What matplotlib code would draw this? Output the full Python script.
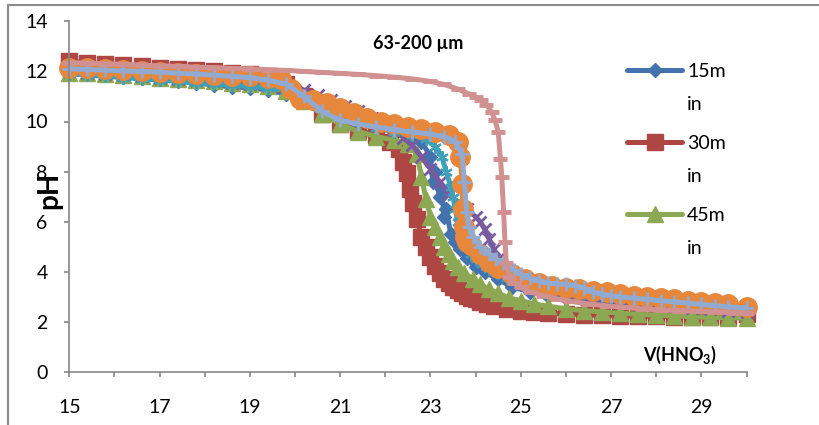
import matplotlib
matplotlib.use('Agg')
import matplotlib.pyplot as plt
from matplotlib.lines import Line2D

plt.rcParams['font.family'] = ['Lato', 'DejaVu Sans']
plt.rcParams['mathtext.fontset'] = 'custom'
plt.rcParams['mathtext.rm'] = 'Lato'
plt.rcParams['mathtext.bf'] = 'Lato:bold'

# ---------------- data ----------------
labels = ['15min', '30min', '45min', 's4', 's5', 's6', 's7', 's8']

x1 = [15, 15.4, 15.8, 16.2, 16.6, 17, 17.4, 17.8, 18.2, 18.6, 19, 19.4, 19.8, 20.2, 20.6, 21, 21.4, 21.8,
      22.2, 22.6, 22.8, 23.0, 23.05, 23.1, 23.2, 23.25, 23.3, 23.35, 23.45, 23.55, 23.65, 23.8, 24.0, 24.2,
      24.5, 24.8, 25.2, 25.6, 26, 26.4, 26.8, 27.2, 27.6, 28, 28.4, 28.8, 29.2, 29.6, 30]
y1 = [11.95, 11.9, 11.85, 11.8, 11.75, 11.7, 11.62, 11.55, 11.45, 11.38, 11.35, 11.25, 11.1, 10.9, 10.6,
      10.2, 9.95, 9.75, 9.6, 9.4, 9.2, 8.6, 7.6, 8.0, 7.0, 7.3, 6.2, 6.5, 5.5, 5.2, 4.9, 4.55, 4.2, 4.0,
      3.7, 3.4, 3.2, 3.05, 2.95, 2.85, 2.8, 2.75, 2.7, 2.65, 2.6, 2.55, 2.5, 2.45, 2.4]

x2 = [15, 15.4, 15.8, 16.2, 16.6, 17, 17.4, 17.8, 18.2, 18.6, 19, 19.4, 19.8, 20.2, 20.6, 21, 21.4, 21.8,
      22.1, 22.3, 22.4, 22.48, 22.55, 22.62, 22.7, 22.8, 22.9, 23.0, 23.1, 23.2, 23.3, 23.4, 23.5, 23.6,
      23.7, 23.8, 23.9, 24.0, 24.1, 24.25, 24.4, 24.7, 25.0, 25.3, 25.6, 26, 26.4, 26.8, 27.2, 27.6, 28,
      28.4, 28.8, 29.2, 29.6, 30]
y2 = [12.4, 12.35, 12.3, 12.25, 12.2, 12.15, 12.1, 12.05, 12.0, 11.95, 11.9, 11.8, 11.5, 11.0, 10.3, 9.9,
      9.65, 9.45, 9.2, 8.9, 8.4, 7.95, 7.3, 6.75, 6.1, 5.4, 5.0, 4.6, 4.25, 3.95, 3.7, 3.55, 3.4, 3.28,
      3.15, 3.05, 2.97, 2.9, 2.8, 2.7, 2.62, 2.5, 2.45, 2.4, 2.36, 2.32, 2.29, 2.27, 2.25, 2.23, 2.22,
      2.21, 2.2, 2.19, 2.18, 2.3]

x3 = [15, 15.4, 15.8, 16.2, 16.6, 17, 17.4, 17.8, 18.2, 18.6, 19, 19.4, 19.8, 20.2, 20.6, 21, 21.4, 21.8,
      22.2, 22.5, 22.7, 22.8, 22.9, 23.0, 23.1, 23.2, 23.3, 23.4, 23.5, 23.6, 23.75, 23.95, 24.1, 24.3,
      24.5, 24.75, 25.0, 25.3, 25.6, 26, 26.4, 26.8, 27.2, 27.6, 28, 28.4, 28.8, 29.2, 29.6, 30]
y3 = [11.95, 11.92, 11.88, 11.84, 11.8, 11.75, 11.7, 11.65, 11.6, 11.55, 11.5, 11.4, 11.2, 10.8, 10.3, 9.9,
      9.6, 9.4, 9.25, 9.1, 8.7, 7.8, 6.9, 6.2, 5.8, 5.4, 5.0, 4.7, 4.45, 4.2, 3.95, 3.7, 3.5, 3.3, 3.15,
      2.95, 2.85, 2.72, 2.62, 2.52, 2.45, 2.4, 2.35, 2.3, 2.27, 2.24, 2.2, 2.18, 2.16, 2.15]

x4 = [15, 15.4, 15.8, 16.2, 16.6, 17, 17.4, 17.8, 18.2, 18.6, 19, 19.4, 19.8, 20.2, 20.5, 20.8, 21.1, 21.4,
      21.7, 22.0, 22.2, 22.4, 22.6, 22.8, 23.0, 23.2, 23.4, 23.6, 23.8, 24.0, 24.1, 24.2, 24.3, 24.4, 24.5,
      24.6, 24.7, 24.85, 25.0, 25.3, 25.6, 26, 26.4, 26.8, 27.2, 27.6, 28, 28.4, 28.8, 29.2, 29.6, 30]
y4 = [12.0, 11.95, 11.9, 11.85, 11.8, 11.75, 11.7, 11.65, 11.6, 11.55, 11.5, 11.45, 11.4, 11.25, 11.05,
      10.85, 10.6, 10.4, 10.15, 9.9, 9.65, 9.35, 9.05, 8.6, 8.1, 7.6, 7.1, 6.8, 6.5, 6.2, 6.0, 5.7, 5.3,
      4.9, 4.5, 4.2, 3.95, 3.7, 3.55, 3.35, 3.2, 3.08, 2.98, 2.9, 2.82, 2.75, 2.68, 2.62, 2.56, 2.5, 2.45,
      2.4]

x5 = [15, 15.4, 15.8, 16.2, 16.6, 17, 17.4, 17.8, 18.2, 18.6, 19, 19.4, 19.8, 20.2, 20.6, 21, 21.4, 21.8,
      22.2, 22.6, 22.9, 23.1, 23.25, 23.35, 23.45, 23.5, 23.55, 23.6, 23.65, 23.7, 23.8, 23.9, 24.0, 24.15,
      24.3, 24.5, 24.7, 25.0, 25.3, 25.6, 26, 26.4, 26.8, 27.2, 27.6, 28, 28.4, 28.8, 29.2, 29.6, 30]
y5 = [11.9, 11.85, 11.8, 11.75, 11.7, 11.65, 11.6, 11.55, 11.5, 11.45, 11.4, 11.35, 11.25, 11.0, 10.6,
      10.2, 9.95, 9.75, 9.6, 9.45, 9.3, 9.0, 8.6, 8.0, 7.4, 7.0, 6.5, 6.0, 5.6, 5.3, 5.0, 4.7, 4.5, 4.3,
      4.1, 3.95, 3.75, 3.6, 3.45, 3.35, 3.25, 3.15, 3.05, 2.98, 2.92, 2.86, 2.8, 2.75, 2.7, 2.65, 2.55]

x6 = [15, 15.4, 15.8, 16.2, 16.6, 17, 17.4, 17.8, 18.2, 18.6, 19, 19.4, 19.7, 19.9, 20.1, 20.4, 20.7,
      21.0, 21.3, 21.6, 21.9, 22.2, 22.5, 22.8, 23.1, 23.4, 23.6, 23.66, 23.7, 23.72, 23.74, 23.76, 23.8,
      23.9, 24.1, 24.3, 24.5, 24.8, 25.1, 25.4, 25.7, 26.0, 26.3, 26.6, 26.9, 27.2, 27.5, 27.8, 28.1, 28.4,
      28.7, 29.0, 29.3, 29.6, 30]
y6 = [12.15, 12.12, 12.1, 12.05, 12.0, 11.98, 11.95, 11.9, 11.87, 11.83, 11.8, 11.75, 11.7, 11.3, 10.9,
      10.85, 10.75, 10.55, 10.35, 10.15, 10.0, 9.9, 9.8, 9.7, 9.6, 9.45, 9.2, 8.6, 7.5, 6.5, 5.8, 5.4,
      5.2, 5.05, 4.7, 4.4, 4.15, 3.9, 3.7, 3.55, 3.45, 3.35, 3.3, 3.25, 3.2, 3.1, 3.05, 3.0, 2.95, 2.9,
      2.85, 2.8, 2.75, 2.7, 2.6]

x7 = [15, 15.4, 15.8, 16.2, 16.6, 17, 17.4, 17.8, 18.2, 18.6, 19, 19.4, 19.8, 20.2, 20.6, 21.0, 21.4, 21.8,
      22.2, 22.6, 23.0, 23.3, 23.55, 23.7, 23.75, 23.8, 23.85, 23.95, 24.1, 24.3, 24.45, 24.6, 24.85, 25.0,
      25.2, 25.4, 25.6, 25.8, 26.0, 26.2, 26.4, 26.6, 26.8, 27.0, 27.2, 27.5, 27.8, 28.1, 28.4, 28.7, 29.0,
      29.3, 29.6, 30]
y7 = [12.1, 12.08, 12.05, 12.02, 12.0, 11.97, 11.93, 11.9, 11.85, 11.8, 11.75, 11.65, 11.5, 11.0, 10.4,
      10.05, 9.9, 9.78, 9.68, 9.58, 9.5, 9.4, 9.2, 8.7, 7.6, 6.4, 5.8, 5.4, 5.0, 4.7, 4.5, 4.35, 4.07, 3.9,
      3.75, 3.65, 3.55, 3.52, 3.5, 3.45, 3.35, 3.2, 3.1, 3.05, 3.0, 2.95, 2.9, 2.85, 2.8, 2.75, 2.7, 2.65,
      2.6, 2.55]

x8 = [15, 15.4, 15.8, 16.2, 16.6, 17, 17.4, 17.8, 18.2, 18.6, 19, 19.4, 19.8, 20.2, 20.6, 21, 21.4, 21.8,
      22.2, 22.6, 23.0, 23.3, 23.6, 23.85, 24.0, 24.13, 24.24, 24.36, 24.43, 24.5, 24.55, 24.58, 24.62,
      24.65, 24.68, 24.75, 24.85, 25.0, 25.2, 25.5, 25.8, 26.1, 26.5, 26.9, 27.3, 27.7, 28.1, 28.5, 28.9,
      29.3, 29.7, 30]
y8 = [12.35, 12.33, 12.3, 12.28, 12.25, 12.22, 12.2, 12.17, 12.15, 12.12, 12.1, 12.07, 12.04, 12.0, 11.96,
      11.92, 11.88, 11.83, 11.77, 11.7, 11.6, 11.48, 11.3, 11.1, 10.98, 10.87, 10.67, 10.36, 10.04, 9.6,
      8.5, 7.8, 6.4, 5.2, 4.35, 3.8, 3.55, 3.38, 3.2, 3.05, 2.92, 2.82, 2.72, 2.64, 2.58, 2.52, 2.48,
      2.45, 2.42, 2.4, 2.37, 2.35]

xs = [x1, x2, x3, x4, x5, x6, x7, x8]
ys = [y1, y2, y3, y4, y5, y6, y7, y8]

xticks = list(range(15, 31))
xticklabels = ['15', '', '17', '', '19', '', '21', '', '23', '', '25', '', '27', '', '29', '']
yticks = [0, 2, 4, 6, 8, 10, 12, 14]

# ---------------- style ----------------
colors = ['#4472AE', '#AE4644', '#8CA852', '#785AA0', '#41A0B9', '#E6873C', '#91AAD2', '#D29191']
markers = ['D', 's', '^', 'x', (6, 2, 0), 'o', '+', '_']
msizes = [7.5, 11, 12, 8, 9, 14, 10, 10]
mews = [1, 1, 1, 2, 1.5, 1, 2, 3.5]

W, H = 819, 425
fig = plt.figure(figsize=(W / 100, H / 100), dpi=100)
ax = fig.add_axes([69.3 / W, 1 - 372 / H, (746.5 - 69.3) / W, (372 - 21.3) / H])

lines = []
for x, y, c, m, ms, mew in zip(xs, ys, colors, markers, msizes, mews):
    ln, = ax.plot(x, y, color=c, lw=3.6, marker=m, ms=ms, mfc=c, mec=c, mew=mew,
                  solid_joinstyle='round', solid_capstyle='round', clip_on=False)
    lines.append(ln)

ax.set_xlim(15, 30)
ax.set_ylim(0, 14)
ax.set_xticks(xticks)
ax.set_xticklabels(xticklabels)
ax.set_yticks(yticks)
ax.set_yticklabels([str(v) for v in yticks])
grey = '#868686'
for s in ['top', 'right']:
    ax.spines[s].set_visible(False)
for s in ['left', 'bottom']:
    ax.spines[s].set_color(grey)
    ax.spines[s].set_linewidth(1.2)
ax.tick_params(axis='both', direction='out', length=3.6, width=1.2, color=grey, labelsize=14,
               labelcolor='black')
ax.tick_params(axis='x', pad=16)
ax.tick_params(axis='y', pad=12)

fig.text(418 / W, 1 - 43 / H, '63-200 µm', ha='center', va='center', weight='bold', size=13)
fig.text(680 / W, 1 - 355 / H, r'V(HNO$_{\mathbf{3}}$)', ha='center', va='center',
         weight='bold', size=13)
fig.text(49 / W, 1 - 190 / H, 'pH', rotation=90, ha='center', va='center', weight='bold', size=20)

leg = ax.legend(lines[:3], ['15m', '30m', '45m'], loc='upper left',
                bbox_to_anchor=(627 / W, 1 - 63 / H), bbox_transform=fig.transFigure,
                frameon=False, fontsize=14, handlelength=2.83, handletextpad=0.26,
                labelspacing=2.82, borderpad=0, borderaxespad=0)

# figure border (chart area frame, cropped on right/bottom)
fig.add_artist(Line2D([8 / W, 8 / W], [0, 1 - 5 / H], transform=fig.transFigure, color='#8c8c8c', lw=1.5))
fig.add_artist(Line2D([8 / W, 1], [1 - 5 / H, 1 - 5 / H], transform=fig.transFigure, color='#8c8c8c', lw=1.5))

fig.canvas.draw()
for t in leg.get_texts():
    bb = t.get_window_extent()
    fig.text(bb.x0 / W, (bb.y1 - 33) / H, 'in', ha='left', va='top', size=14)

fig.savefig('out.png', dpi=100)
